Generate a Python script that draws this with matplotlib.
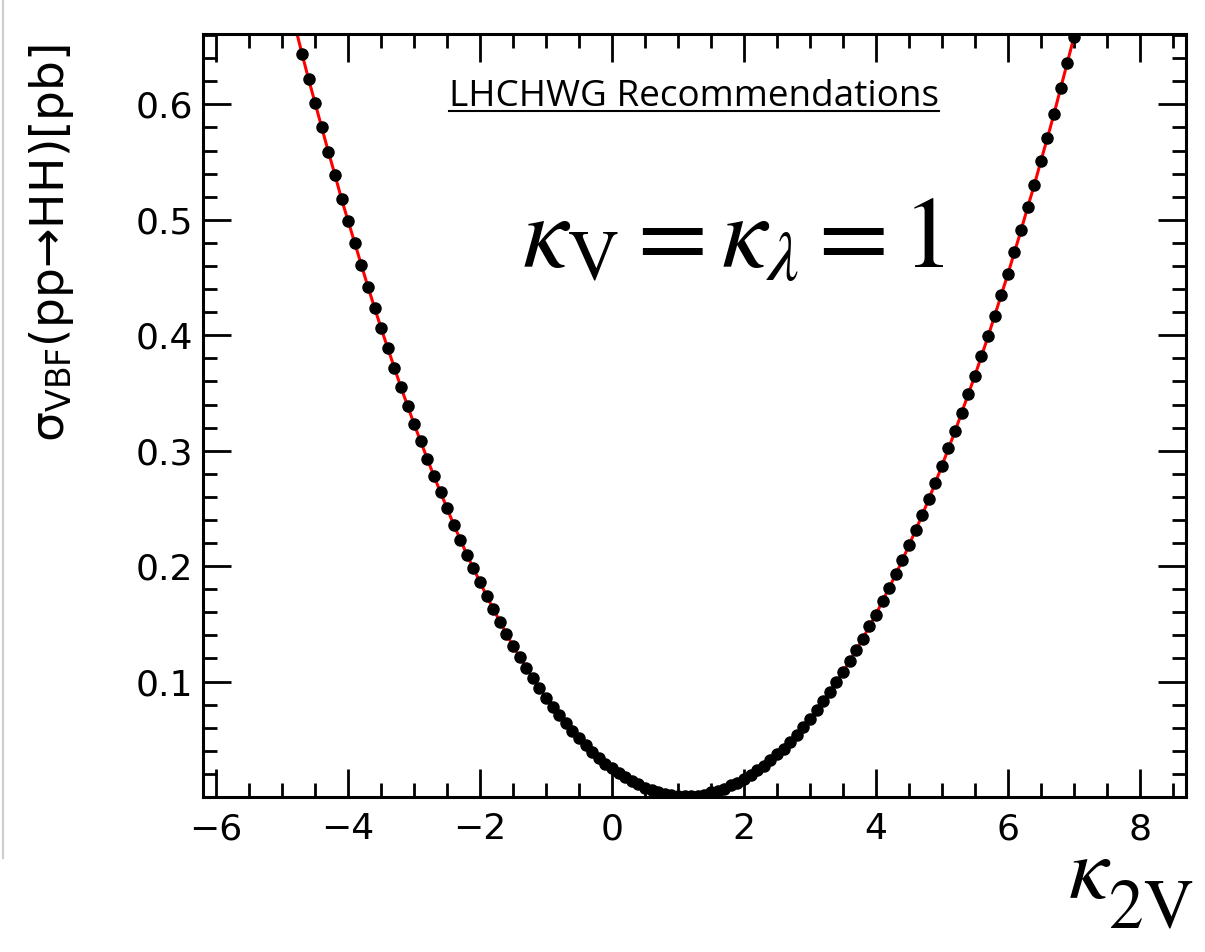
import numpy as np
import matplotlib
matplotlib.use("Agg")
import matplotlib.pyplot as plt
from matplotlib.ticker import MultipleLocator
from matplotlib.lines import Line2D

# scan points: kappa_2V and VBF HH cross section [pb]
k2v = [-4.8, -4.7, -4.6, -4.5, -4.4, -4.3, -4.2, -4.1, -4.0, -3.9,
       -3.8, -3.7, -3.6, -3.5, -3.4, -3.3, -3.2, -3.1, -3.0, -2.9,
       -2.8, -2.7, -2.6, -2.5, -2.4, -2.3, -2.2, -2.1, -2.0, -1.9,
       -1.8, -1.7, -1.6, -1.5, -1.4, -1.3, -1.2, -1.1, -1.0, -0.9,
       -0.8, -0.7, -0.6, -0.5, -0.4, -0.3, -0.2, -0.1, 0.0, 0.1,
       0.2, 0.3, 0.4, 0.5, 0.6, 0.7, 0.8, 0.9, 1.0, 1.1,
       1.2, 1.3, 1.4, 1.5, 1.6, 1.7, 1.8, 1.9, 2.0, 2.1,
       2.2, 2.3, 2.4, 2.5, 2.6, 2.7, 2.8, 2.9, 3.0, 3.1,
       3.2, 3.3, 3.4, 3.5, 3.6, 3.7, 3.8, 3.9, 4.0, 4.1,
       4.2, 4.3, 4.4, 4.5, 4.6, 4.7, 4.8, 4.9, 5.0, 5.1,
       5.2, 5.3, 5.4, 5.5, 5.6, 5.7, 5.8, 5.9, 6.0, 6.1,
       6.2, 6.3, 6.4, 6.5, 6.6, 6.7, 6.8, 6.9, 7.0, 7.1]
xsec = [0.667, 0.644, 0.622, 0.601, 0.580, 0.559, 0.539, 0.518, 0.499, 0.480,
        0.461, 0.442, 0.424, 0.406, 0.389, 0.372, 0.355, 0.339, 0.323, 0.308,
        0.293, 0.278, 0.264, 0.250, 0.236, 0.223, 0.210, 0.198, 0.186, 0.174,
        0.163, 0.152, 0.141, 0.131, 0.121, 0.112, 0.103, 0.094, 0.086, 0.078,
        0.071, 0.064, 0.057, 0.051, 0.045, 0.039, 0.034, 0.029, 0.025, 0.021,
        0.017, 0.014, 0.011, 0.008, 0.006, 0.004, 0.003, 0.002, 0.001, 0.001,
        0.001, 0.001, 0.002, 0.004, 0.005, 0.007, 0.010, 0.012, 0.016, 0.019,
        0.023, 0.027, 0.032, 0.037, 0.042, 0.048, 0.054, 0.061, 0.068, 0.075,
        0.083, 0.091, 0.100, 0.108, 0.118, 0.127, 0.137, 0.148, 0.158, 0.170,
        0.181, 0.193, 0.205, 0.218, 0.231, 0.244, 0.258, 0.272, 0.287, 0.302,
        0.317, 0.333, 0.349, 0.365, 0.382, 0.399, 0.417, 0.435, 0.453, 0.472,
        0.491, 0.511, 0.530, 0.551, 0.571, 0.592, 0.614, 0.636, 0.658, 0.680]

yticks = [0.1, 0.2, 0.3, 0.4, 0.5, 0.6]
xticks = [-6, -4, -2, 0, 2, 4, 6, 8]

W, H = 1205, 952
fig = plt.figure(figsize=(W / 100, H / 100), dpi=100)
ax = fig.add_axes([203 / W, 1 - 797 / H, (1186 - 203) / W, (797 - 34) / H])

ax.plot(k2v, xsec, '-', color='#ff0000', lw=2.2, zorder=2)
ax.plot(k2v, xsec, 'o', color='black', ms=8, zorder=3)

ax.set_xlim(-6.2, 8.7)
ax.set_ylim(0.0, 0.661)
ax.set_xticks(xticks)
ax.set_yticks(yticks)
ax.set_xticklabels(['\u22126', '\u22124', '\u22122', '0', '2', '4', '6', '8'])
ax.set_yticklabels(['0.1', '0.2', '0.3', '0.4', '0.5', '0.6'])
ax.xaxis.set_minor_locator(MultipleLocator(0.5))
ax.yaxis.set_minor_locator(MultipleLocator(0.02))

for s in ax.spines.values():
    s.set_linewidth(2.2)
ax.tick_params(which='both', direction='in', top=True, right=True, width=2)
ax.tick_params(which='major', length=20, labelsize=26)
ax.tick_params(which='minor', length=10)
ax.tick_params(axis='x', which='major', pad=11)
ax.tick_params(axis='y', which='major', pad=7)

fig.text(52 / W, 1 - 243 / H, 'σ' + r'$_{\mathrm{VBF}}$' + '(pp\u2192HH)[pb]',
         rotation=90, ha='center', va='center', fontsize=34)

fig.text(522 / W, 1 - 268 / H,
         r'$\mathit{\kappa}_{\mathrm{V}} = \mathit{\kappa}_{\mathit{\lambda}} = 1$',
         math_fontfamily='stix', fontsize=73, ha='left', va='baseline')

# x-axis title: kappa with a deeply dropped "2V" subscript
sub = fig.text(1194 / W, 1 - 927 / H, '2V', family='STIXGeneral',
               fontsize=50, ha='right', va='baseline')
fig.canvas.draw()
sb = sub.get_window_extent()
fig.text((sb.x0 + 2) / W, 1 - 898 / H, r'$\mathit{\kappa}$',
         math_fontfamily='stix', fontsize=64, ha='right', va='baseline')

t = fig.text(449 / W, 1 - 106 / H, 'LHCHWG Recommendations',
             family='Open Sans', fontsize=26.6, ha='left', va='baseline')
fig.canvas.draw()
bb = t.get_window_extent()
fig.add_artist(Line2D([bb.x0 / W, bb.x1 / W], [1 - 111 / H, 1 - 111 / H],
                      transform=fig.transFigure, color='black', lw=1.5))

# thin grey border at the left edge of the page
fig.add_artist(Line2D([3 / W, 3 / W], [1, 1 - 858 / H],
                      transform=fig.transFigure, color='#cccccc', lw=1.5))

fig.savefig('out.png', dpi=100)
